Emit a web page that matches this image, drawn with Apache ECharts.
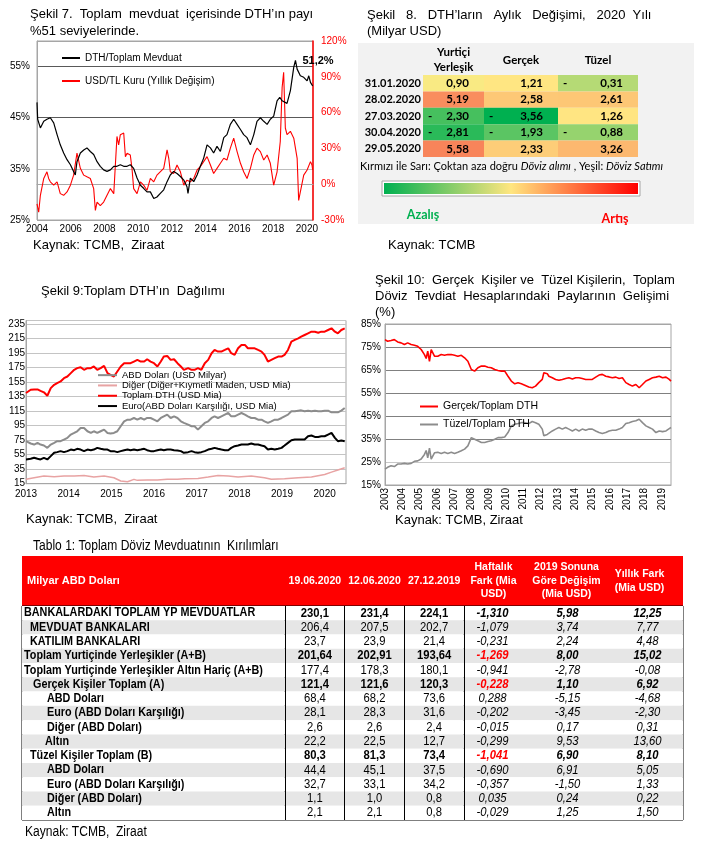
<!DOCTYPE html>
<html><head><meta charset="utf-8">
<script src="https://cdn.jsdelivr.net/npm/echarts@6/dist/echarts.min.js"></script>
<style>html,body{margin:0;padding:0;background:#fff}#c{width:707px;height:847px}</style>
</head><body><div id="c"></div>
<script>
// ---------------- Şekil 7 ----------------
const s7DthYears = [2004.00, 2004.04, 2004.20, 2004.40, 2004.59, 2004.79, 2004.99, 2005.19, 2005.38, 2005.58, 2005.78, 2005.98, 2006.17, 2006.27, 2006.37, 2006.57, 2006.77, 2006.96, 2007.16, 2007.36, 2007.56, 2007.75, 2007.95, 2008.15, 2008.35, 2008.55, 2008.74, 2008.94, 2009.14, 2009.34, 2009.53, 2009.73, 2009.93, 2010.13, 2010.32, 2010.52, 2010.72, 2010.92, 2011.11, 2011.31, 2011.51, 2011.71, 2011.90, 2012.10, 2012.30, 2012.50, 2012.70, 2012.89, 2012.95, 2013.09, 2013.29, 2013.49, 2013.68, 2013.88, 2014.08, 2014.28, 2014.47, 2014.67, 2014.87, 2015.07, 2015.26, 2015.46, 2015.66, 2015.86, 2016.06, 2016.25, 2016.45, 2016.65, 2016.75, 2016.85, 2017.04, 2017.24, 2017.44, 2017.64, 2017.83, 2018.03, 2018.23, 2018.39, 2018.53, 2018.82, 2019.02, 2019.22, 2019.32, 2019.42, 2019.61, 2019.81, 2020.01, 2020.11, 2020.21, 2020.34];
const s7DthValues = [48.0, 44.7, 43.0, 44.3, 44.7, 45.0, 44.0, 41.7, 39.7, 38.1, 36.8, 35.8, 34.5, 33.8, 36.4, 38.1, 38.7, 39.1, 38.4, 37.8, 36.4, 35.5, 34.8, 34.5, 34.8, 35.5, 35.5, 35.8, 35.5, 35.5, 35.8, 35.1, 33.2, 31.8, 31.2, 30.5, 30.5, 29.2, 29.5, 30.2, 30.9, 32.5, 33.8, 34.5, 34.1, 33.5, 32.8, 31.5, 30.2, 33.2, 32.5, 33.8, 35.5, 37.1, 39.7, 39.1, 38.1, 39.4, 38.4, 41.1, 41.7, 43.7, 44.7, 43.7, 42.7, 41.7, 41.1, 39.7, 39.4, 41.7, 44.3, 45.0, 44.3, 43.7, 44.7, 45.3, 48.3, 49.0, 48.3, 47.8, 50.3, 54.9, 56.2, 54.5, 53.2, 52.9, 52.2, 53.2, 51.9, 51.2];
const s7UsdYears = [2004.00, 2004.10, 2004.20, 2004.40, 2004.59, 2004.69, 2004.79, 2004.99, 2005.19, 2005.38, 2005.58, 2005.78, 2005.98, 2006.17, 2006.37, 2006.57, 2006.77, 2006.96, 2007.16, 2007.36, 2007.46, 2007.56, 2007.75, 2007.95, 2008.15, 2008.35, 2008.55, 2008.74, 2008.84, 2008.94, 2009.14, 2009.24, 2009.34, 2009.53, 2009.63, 2009.73, 2009.93, 2010.13, 2010.32, 2010.52, 2010.72, 2010.92, 2011.11, 2011.51, 2011.71, 2011.81, 2011.90, 2012.10, 2012.30, 2012.50, 2012.70, 2012.89, 2013.09, 2013.29, 2013.49, 2013.68, 2013.88, 2014.08, 2014.28, 2014.47, 2014.67, 2014.87, 2015.07, 2015.26, 2015.46, 2015.66, 2015.86, 2016.06, 2016.25, 2016.45, 2016.65, 2016.85, 2017.04, 2017.24, 2017.44, 2017.64, 2017.83, 2018.03, 2018.23, 2018.42, 2018.53, 2018.62, 2018.72, 2018.82, 2019.02, 2019.22, 2019.42, 2019.51, 2019.61, 2019.81, 2020.01, 2020.21, 2020.30, 2020.34];
const s7UsdValues = [-16.4, -23.5, -9.3, 4.8, 10.4, 4.8, 2.0, -0.8, 2.0, -7.9, -9.3, -6.5, -0.8, 7.6, 26.0, 13.3, 7.6, 6.2, 4.8, -3.7, -22.0, -15.0, -17.9, -15.0, -9.3, -3.7, -7.9, 40.0, 33.0, 41.5, 42.9, 23.0, 26.0, 24.5, 13.3, -3.7, -7.9, 2.0, -0.8, -5.1, 4.8, 2.0, 7.6, 13.3, 28.8, 21.7, 10.4, 9.0, 16.1, 10.4, -0.8, 3.4, 2.0, 4.8, 11.9, 14.7, 18.9, 23.1, 16.1, 9.0, 13.3, 17.5, 21.7, 20.3, 30.2, 38.6, 27.3, 17.5, 10.4, 4.8, 13.3, 24.5, 30.2, 27.3, 20.3, 24.5, 17.5, -0.8, 10.4, 35.8, 81.0, 93.7, 47.1, 41.5, 44.3, 38.6, 21.7, -13.6, -6.5, 7.6, 11.9, 18.9, 16.1, 11.9];

// ---------------- Şekil 8 ----------------
const s8Dates = ['31.01.2020', '28.02.2020', '27.03.2020', '30.04.2020', '29.05.2020'];
const s8Columns = ['Yurtiçi\nYerleşik', 'Gerçek', 'Tüzel'];
const s8Yurtici = [0.90, 5.19, -2.30, -2.81, 5.58];
const s8Gercek = [1.21, 2.58, -3.56, -1.93, 2.33];
const s8Tuzel = [-0.31, 2.61, 1.26, -0.88, 3.26];

// ---------------- Şekil 9 ----------------
const s9Years = [2013.00, 2013.11, 2013.19, 2013.27, 2013.34, 2013.42, 2013.50, 2013.58, 2013.66, 2013.73, 2013.81, 2013.89, 2013.97, 2014.05, 2014.13, 2014.20, 2014.28, 2014.36, 2014.44, 2014.52, 2014.59, 2014.67, 2014.75, 2014.83, 2014.91, 2014.98, 2015.06, 2015.14, 2015.22, 2015.30, 2015.38, 2015.45, 2015.53, 2015.61, 2015.69, 2015.77, 2015.84, 2015.92, 2016.00, 2016.08, 2016.16, 2016.23, 2016.31, 2016.39, 2016.47, 2016.55, 2016.63, 2016.70,
  2016.80, 2016.88, 2016.95, 2017.03, 2017.11, 2017.19, 2017.27, 2017.35, 2017.42, 2017.50, 2017.58, 2017.66, 2017.74, 2017.81, 2017.89, 2017.97, 2018.05, 2018.13, 2018.20, 2018.28, 2018.36, 2018.44, 2018.52, 2018.59, 2018.67, 2018.75, 2018.83, 2018.91, 2018.99, 2019.06, 2019.14, 2019.22, 2019.30, 2019.38, 2019.45, 2019.53, 2019.61, 2019.69, 2019.77, 2019.85, 2019.92, 2020.00, 2020.08, 2020.16, 2020.24, 2020.31, 2020.39, 2020.47];
const s9Toplam = [140, 144.5, 145, 145, 143, 141, 136.3, 146.8, 151.4, 153.7, 156, 160.5, 162.8, 167.4, 172, 174.3, 175.6, 172, 174.3, 174.3, 176.6, 172, 174.3, 177.5, 167.4, 165, 162.8, 169.7, 176.6, 181.1, 181.1, 181.1, 183.4, 185.7, 183.4, 183.4, 186.6, 183.4, 181.1, 176.6, 183.4, 190.3, 191.2, 185.7, 186.6, 181.1, 176.6, 172,
  174.3, 172, 172, 174.3, 172, 181.1, 185.7, 194.9, 199.4, 197.2, 197.2, 199.4, 201.7, 194.9, 192.6, 201.7, 206.3, 206.3, 201.7, 201.7, 201.7, 199.4, 197.2, 192.6, 183.4, 185.7, 188, 190.3, 190.3, 192.6, 199.4, 210.9, 213.2, 215.4, 217.7, 220, 222.3, 224.6, 224.6, 223.2, 224.6, 224.6, 226.9, 229.2, 224.6, 222.3, 226.9, 229.2];
const s9Abd = [73.6, 70.4, 69, 71.3, 69, 67.6, 64.4, 69, 71.3, 73.6, 73.6, 75.9, 78.2, 82.7, 85, 87.3, 91.9, 91.9, 87.3, 85, 87.3, 85, 87.3, 89.6, 85, 84.1, 85, 87.3, 94.2, 101, 103.3, 103.3, 105.6, 103.3, 105.6, 103.3, 105.6, 105.6, 103.3, 101, 105.6, 107.9, 110.2, 105.6, 107.9, 105.6, 101, 98.8,
  96.5, 94.2, 94.2, 89.6, 94.2, 98.8, 101, 105.6, 107.9, 105.6, 107.9, 110.2, 112.5, 107.9, 107.9, 110.2, 112.5, 110.2, 107.9, 105.6, 105.6, 103.3, 103.3, 101, 98.8, 101, 103.3, 103.3, 105.6, 107.9, 110.2, 114.8, 114.8, 115.7, 116.1, 114.8, 115.7, 114.8, 115.7, 114.8, 114.8, 115.7, 115.7, 113.4, 113.4, 113.4, 115.7, 119.3];
const s9Euro = [48.4, 49.3, 50.7, 49.3, 48.4, 50.7, 48.4, 53, 57.6, 58.5, 59.9, 58.5, 59.9, 62.1, 61.2, 63.1, 62.1, 59.9, 62.1, 61.2, 62.1, 64.4, 63.1, 62.1, 62.1, 59.9, 59.9, 58.5, 59.9, 61.2, 62.1, 61.2, 62.1, 61.2, 62.1, 63.1, 61.2, 59.9, 59.9, 61.2, 62.1, 61.2, 62.1, 62.1, 61.2, 60.8, 59.9, 57.6,
  58.5, 59.9, 58.5, 57.6, 58.5, 59.9, 62.1, 63.1, 64.4, 63.1, 62.1, 61.2, 61.2, 64.4, 66.7, 67.6, 69, 69, 69, 70.4, 69, 69, 67.6, 66.7, 62.1, 63.1, 62.1, 63.1, 64.4, 67.6, 71.3, 75, 75.9, 75.9, 75.9, 75.9, 80.4, 81.4, 79.5, 79.5, 80.4, 80.4, 82.7, 85, 78.2, 73.6, 74.5, 73.6];
const s9DigerYears = [2013.00, 2013.19, 2013.42, 2013.66, 2013.89, 2014.13, 2014.36, 2014.59, 2014.83, 2015.06, 2015.22, 2015.38, 2015.53, 2015.61, 2015.84, 2016.08, 2016.31, 2016.55, 2016.72, 2017.03, 2017.27, 2017.50, 2017.74, 2017.97, 2018.28, 2018.59, 2018.75, 2019.06, 2019.38, 2019.69, 2020.00, 2020.16, 2020.31, 2020.47];
const s9Diger = [21, 23.2, 25.5, 24.6, 25.5, 25.5, 26.4, 24.2, 25.5, 23.2, 18.7, 17.7, 21, 19.6, 20, 20, 21, 21, 21.9, 22.3, 24.2, 26.4, 25.5, 24.2, 25.5, 23.2, 21, 21.9, 23.2, 24.2, 27.8, 31, 33.8, 37];

// ---------------- Şekil 10 ----------------
const s10Years = [2003.00, 2003.15, 2003.35, 2003.54, 2003.73, 2003.93, 2004.12, 2004.31, 2004.51, 2004.70, 2004.89, 2005.09, 2005.28, 2005.38, 2005.47, 2005.57, 2005.67, 2005.86, 2006.05, 2006.25, 2006.44, 2006.63, 2006.83, 2007.02, 2007.21, 2007.41, 2007.60, 2007.79, 2007.99, 2008.18, 2008.37, 2008.57, 2008.76, 2008.95, 2009.14, 2009.34, 2009.53, 2009.72, 2009.92, 2010.11, 2010.30, 2010.50, 2010.69, 2010.88, 2011.08,
  2011.31, 2011.51, 2011.70, 2011.89, 2012.09, 2012.18, 2012.28, 2012.38, 2012.47, 2012.67, 2012.86, 2013.05, 2013.25, 2013.44, 2013.63, 2013.83, 2014.02, 2014.21, 2014.40, 2014.60, 2014.79, 2014.98, 2015.18, 2015.37, 2015.56, 2015.76, 2015.95, 2016.14, 2016.34, 2016.53, 2016.72, 2016.92, 2017.11, 2017.30, 2017.50, 2017.69, 2017.88, 2018.08, 2018.27, 2018.46, 2018.66, 2018.85, 2019.04, 2019.24, 2019.43, 2019.53];
const s10Gercek = [78.2, 77.5, 77.8, 78.2, 77.2, 76.8, 76.1, 76.8, 76.1, 75.8, 75.3, 73.9, 71.7, 70.0, 73.2, 68.8, 73.9, 71.0, 71.0, 71.7, 71.4, 71.7, 71.7, 71.4, 71.0, 71.4, 70.3, 68.8, 65.2, 64.5, 66.0, 66.7, 66.7, 66.2, 66.0, 65.2, 64.8, 64.5, 64.5, 62.3, 60.2, 59.0, 59.5, 59.0, 58.4,
  57.6, 57.3, 58.0, 59.5, 60.9, 63.8, 64.5, 63.4, 62.3, 61.6, 60.9, 60.5, 60.9, 61.3, 61.6, 61.1, 61.6, 61.6, 61.3, 60.9, 60.9, 60.9, 61.9, 62.8, 63.1, 62.3, 62.0, 61.6, 61.9, 61.3, 61.6, 59.5, 58.7, 58.0, 58.7, 57.3, 58.7, 60.2, 60.9, 61.6, 61.9, 62.3, 61.6, 61.9, 60.9, 60.2];
const s10Tuzel = [21.9, 22.7, 23.4, 23.0, 24.1, 24.1, 24.4, 24.1, 24.4, 25.3, 25.5, 26.3, 28.3, 30.0, 26.8, 31.0, 26.3, 29.0, 29.2, 28.7, 29.2, 28.7, 29.2, 28.7, 29.2, 29.9, 30.6, 32.0, 35.6, 34.9, 34.2, 33.5, 33.5, 33.9, 34.2, 34.9, 35.6, 35.6, 35.9, 37.8, 40.7, 41.4, 41.7, 42.1, 42.1,
  41.7, 42.6, 42.1, 41.4, 39.3, 36.4, 35.8, 37.0, 37.8, 38.5, 39.3, 40.0, 39.3, 40.0, 39.3, 38.5, 39.3, 38.5, 39.3, 38.8, 39.3, 39.3, 38.5, 37.8, 37.4, 37.8, 38.5, 38.8, 38.8, 39.3, 40.0, 41.7, 42.1, 42.6, 42.9, 43.6, 42.1, 40.7, 40.0, 39.3, 37.8, 38.5, 38.2, 38.5, 39.5, 40.0];

// ---------------- Tablo 1 ----------------
const t1Rows = ['BANKALARDAKİ TOPLAM YP MEVDUATLAR', 'MEVDUAT BANKALARI', 'KATILIM BANKALARI', 'Toplam Yurtiçinde Yerleşikler (A+B)', 'Toplam Yurtiçinde Yerleşikler Altın Hariç (A+B)', 'Gerçek Kişiler Toplam (A)', 'ABD Doları', 'Euro (ABD Doları Karşılığı)', 'Diğer (ABD Doları)', 'Altın', 'Tüzel Kişiler Toplam (B)', 'ABD Doları', 'Euro (ABD Doları Karşılığı)', 'Diğer (ABD Doları)', 'Altın'];
const t1DateHeaders = ['19.06.2020', '12.06.2020', '27.12.2019'];
const t1ChangeHeaders = ['Haftalık\nFark (Mia\nUSD)', '2019 Sonuna\nGöre Değişim\n(Mia USD)', 'Yıllık Fark\n(Mia USD)'];
const t1Jun19 = [230.1, 206.4, 23.7, 201.64, 177.4, 121.4, 68.4, 28.1, 2.6, 22.2, 80.3, 44.4, 32.7, 1.1, 2.1];
const t1Jun12 = [231.4, 207.5, 23.9, 202.91, 178.3, 121.6, 68.2, 28.3, 2.6, 22.5, 81.3, 45.1, 33.1, 1.0, 2.1];
const t1Dec27 = [224.1, 202.7, 21.4, 193.64, 180.1, 120.3, 73.6, 31.6, 2.4, 12.7, 73.4, 37.5, 34.2, 0.8, 0.8];
const t1Weekly = [-1.310, -1.079, -0.231, -1.269, -0.941, -0.228, 0.288, -0.202, -0.015, -0.299, -1.041, -0.690, -0.357, 0.035, -0.029];
const t1SinceYE = [5.98, 3.74, 2.24, 8.00, -2.78, 1.10, -5.15, -3.45, 0.17, 9.53, 6.90, 6.91, -1.50, 0.24, 1.25];
const t1Annual = [12.25, 7.77, 4.48, 15.02, -0.08, 6.92, -4.68, -2.30, 0.31, 13.60, 8.10, 5.05, 1.33, 0.22, 1.50];

// ---------------- styling / layout (not data) ----------------
const F = '"Liberation Sans", Arial, sans-serif';
const FC = 'Lato, "Open Sans", sans-serif';
const t1RowLevel = [0, 1, 1, 0, 0, 2, 3, 3, 3, 4, 1, 3, 3, 3, 3];
const t1LevelIndent = [2, 8, 11, 25, 23];
const t1BoldRows = [0, 3, 5, 10];
const t1RedWeeklyRows = [3, 5, 10];
const t1TwoDecRows = [3];
const t1ChangeDecimals = [3, 2, 2];
const t1ChangeOffsets = [-8, -6, 1];
const NARROW = 0.9;

const pairs = (xs, ys) => xs.map((x, i) => [x, ys[i]]);
const fmt = (v, d) => v.toFixed(d).replace('.', ',');
const yearLabel = step => v => {
  const r = Math.round(v);
  return (Math.abs(v - r) < 1e-6 && r % step === 0) ? String(r) : '';
};
const txt = (x, y, text, font, extra, elExtra) => Object.assign({
  type: 'text', x, y, z: 100,
  style: Object.assign({ text, font, fill: '#000', align: 'left', verticalAlign: 'middle', textAlign: 'left', textVerticalAlign: 'middle' }, extra || {})
}, elExtra || {});
const tstyle = (text, font, fill, align) => ({ text, font, fill, align, verticalAlign: 'middle', textAlign: align, textVerticalAlign: 'middle' });

function heatCell(params, api) {
  const p = api.coord([api.value(0), api.value(1)]);
  const s = api.size([1, 1]);
  const v = api.value(2);
  const x0 = p[0] - s[0] / 2, y0 = p[1] - s[1] / 2;
  const font = 'bold 11.5px ' + FC;
  const kids = [
    { type: 'rect', shape: { x: x0, y: y0, width: s[0], height: s[1] }, style: { fill: api.visual('color') } },
    { type: 'text', x: x0 + s[0] - 15, y: p[1], style: tstyle(fmt(Math.abs(v), 2), font, '#000', 'right') }
  ];
  if (v < 0) kids.push({ type: 'text', x: x0 + 5, y: p[1], style: tstyle('-', font, '#000', 'left') });
  return { type: 'group', children: kids };
}
function rowLabelCell(params, api) {
  const r = api.value(1);
  const p = api.coord([0, r]);
  const s = api.size([1, 1]);
  return { type: 'text', x: p[0] - s[0] / 2 + t1LevelIndent[t1RowLevel[r]], y: p[1], scaleX: NARROW,
    style: tstyle(t1Rows[r], 'bold 12px ' + F, '#000', 'left') };
}
function dateCell(params, api) {
  const r = api.value(1), v = api.value(2);
  const p = api.coord([api.value(0), r]);
  const bold = t1BoldRows.includes(r);
  return { type: 'text', x: p[0], y: p[1], scaleX: NARROW,
    style: tstyle(fmt(v, t1TwoDecRows.includes(r) ? 2 : 1), (bold ? 'bold ' : '') + '12.5px ' + F, '#000', 'center') };
}
function changeCell(params, api) {
  const c = api.value(0), r = api.value(1), v = api.value(2);
  const p = api.coord([c, r]);
  const bold = t1BoldRows.includes(r);
  const red = c === 0 && t1RedWeeklyRows.includes(r);
  return { type: 'text', x: p[0] + t1ChangeOffsets[c], y: p[1], scaleX: NARROW,
    style: tstyle(fmt(v, t1ChangeDecimals[c]), 'italic ' + (bold ? 'bold ' : '') + '12.5px ' + F, red ? '#ff0000' : '#000', 'center') };
}

const s8All = s8Yurtici.concat(s8Gercek, s8Tuzel);
const t1DateData = [t1Jun19, t1Jun12, t1Dec27].flatMap((col, c) => col.map((v, r) => [c, r, v]));
const t1ChangeData = [t1Weekly, t1SinceYE, t1Annual].flatMap((col, c) => col.map((v, r) => [c, r, v]));
const t1LabelData = t1Rows.map((name, r) => [0, r]);

const noLine = { show: false };
const frameLine = { show: true, lineStyle: { color: '#a6a6a6', width: 1 } };
const blackLbl = { fontSize: 10, color: '#000', fontFamily: F };

const s8X = (i, margin) => ({
  gridIndex: 3 + i, type: 'category', position: 'top', data: [s8Columns[i]],
  axisLine: noLine, axisTick: noLine, splitLine: noLine,
  axisLabel: { interval: 0, margin, fontFamily: FC, fontWeight: 'bold', fontSize: 11.5, lineHeight: 15, color: '#000' }
});
const s8Y = (i) => ({
  gridIndex: 3 + i, type: 'category', inverse: true, data: s8Dates,
  axisLine: noLine, axisTick: noLine, splitLine: noLine,
  axisLabel: { show: i === 0, interval: 0, margin: 2, fontFamily: FC, fontWeight: 'bold', fontSize: 11, color: '#000' }
});
const tY = (i) => ({
  gridIndex: 6 + i, type: 'category', inverse: true, data: t1Rows,
  axisLine: noLine, axisTick: { show: false, interval: 0 }, splitLine: noLine, axisLabel: { show: false, interval: 0 },
  splitArea: { show: true, interval: 0, areaStyle: { color: ['#ffffff', '#e6e6e6'] } }
});
const lineS = (name, xi, yi, data, color, width, z) => ({
  type: 'line', name, xAxisIndex: xi, yAxisIndex: yi, data, symbol: 'none', showSymbol: false,
  lineStyle: { color, width }, itemStyle: { color }, z: z || 2, animation: false
});
const hdrLbl = { interval: 0, margin: 25, verticalAlign: 'middle', color: '#fff', fontFamily: F, fontWeight: 'bold', fontSize: 10.5 };

const option = {
  animation: false,
  backgroundColor: '#ffffff',
  textStyle: { fontFamily: F },
  grid: [
    { left: 37, top: 41, width: 276, height: 179, show: true, borderColor: '#a6a6a6', borderWidth: 1 },
    { left: 26, top: 320.5, width: 320, height: 163.2, show: true, borderColor: '#a6a6a6', borderWidth: 1 },
    { left: 385, top: 324, width: 286, height: 161, show: true, borderColor: '#a6a6a6', borderWidth: 1 },
    { left: 423, top: 75, width: 61, height: 82 },
    { left: 484, top: 75, width: 74, height: 82 },
    { left: 558, top: 75, width: 80, height: 82 },
    { left: 22, top: 606, width: 263, height: 214, show: true, borderColor: '#000', borderWidth: 1 },
    { left: 285, top: 606, width: 179, height: 214, show: true, borderColor: '#000', borderWidth: 1 },
    { left: 464, top: 606, width: 219, height: 214, show: true, borderColor: '#000', borderWidth: 1 }
  ],
  xAxis: [
    { gridIndex: 0, type: 'value', min: 2004, max: 2020.36, interval: 2, axisLine: frameLine, axisTick: noLine, splitLine: noLine, axisLabel: Object.assign({ margin: 4, formatter: yearLabel(2) }, blackLbl) },
    { gridIndex: 1, type: 'value', min: 2013, max: 2020.5, interval: 1, axisLine: frameLine, axisTick: noLine, splitLine: noLine, axisLabel: Object.assign({ margin: 6, formatter: yearLabel(1) }, blackLbl) },
    { gridIndex: 2, type: 'value', min: 2003, max: 2019.53, interval: 1, axisLine: frameLine, axisTick: noLine, splitLine: noLine, axisLabel: Object.assign({ margin: 3, rotate: 90, formatter: yearLabel(1) }, blackLbl) },
    s8X(0, 0), s8X(1, 7), s8X(2, 7),
    { gridIndex: 6, type: 'category', position: 'top', data: ['Milyar ABD Doları'], axisLine: noLine, axisTick: noLine, splitLine: noLine,
      axisLabel: { interval: 0, margin: 25, verticalAlign: 'middle', formatter: v => '{h|' + v + '}', rich: { h: { width: 253, align: 'left', color: '#fff', fontFamily: F, fontWeight: 'bold', fontSize: 11 } } } },
    { gridIndex: 7, type: 'category', position: 'top', data: t1DateHeaders, axisLine: noLine, axisTick: noLine,
      splitLine: { show: true, interval: 0, lineStyle: { color: '#000', width: 1 } }, axisLabel: hdrLbl },
    { gridIndex: 8, type: 'category', position: 'top', data: t1ChangeHeaders, axisLine: noLine, axisTick: noLine, splitLine: noLine,
      axisLabel: Object.assign({}, hdrLbl, { padding: [0, 14, 0, 0], lineHeight: 13.5 }) }
  ],
  yAxis: [
    { gridIndex: 0, type: 'value', position: 'left', min: 25, max: 60, interval: 10, axisLine: frameLine, axisTick: noLine,
      axisLabel: Object.assign({ margin: 7, formatter: v => v === 60 ? '' : v + '%' }, blackLbl),
      splitLine: { show: true, lineStyle: { color: ['#a6a6a6', '#bdbdbd', '#595959', '#595959', '#a6a6a6'], width: 1.2 } } },
    { gridIndex: 0, type: 'value', position: 'right', min: -30, max: 120, interval: 30,
      axisLine: { show: true, lineStyle: { color: '#ff0000', width: 1.5 } }, axisTick: noLine, splitLine: noLine,
      axisLabel: { margin: 8, fontSize: 10, color: '#ff0000', fontFamily: F, formatter: v => v + '%' } },
    { gridIndex: 1, type: 'value', min: 15, max: 240, interval: 20, axisLine: frameLine, axisTick: noLine,
      axisLabel: Object.assign({ margin: 1, formatter: v => v === 240 ? '' : String(v) }, blackLbl),
      splitLine: { show: true, lineStyle: { color: '#c4c4c4', width: 1 } } },
    { gridIndex: 2, type: 'value', min: 15, max: 85, interval: 10, axisLine: frameLine, axisTick: noLine,
      axisLabel: Object.assign({ margin: 4, formatter: v => v + '%' }, blackLbl),
      splitLine: { show: true, lineStyle: { color: ['#a6a6a6', '#c8c8c8', '#808080', '#808080', '#808080', '#808080', '#808080', '#a6a6a6'], width: 1.2 } } },
    s8Y(0), s8Y(1), s8Y(2),
    tY(0), tY(1), tY(2)
  ],
  legend: [
    { data: ['DTH/Toplam Mevduat', 'USD/TL Kuru (Yıllık Değişim)'], orient: 'vertical', left: 62, top: 53, padding: 0, icon: 'rect', itemWidth: 18, itemHeight: 2, itemGap: 13, selectedMode: false, textStyle: { fontSize: 10, color: '#000', fontFamily: F } },
    { data: ['ABD Doları (USD Milyar)', 'Diğer (Diğer+Kıymetli Maden, USD Mia)', 'Toplam DTH (USD Mia)', 'Euro(ABD Doları Karşılığı, USD Mia)'], orient: 'vertical', left: 98, top: 370, padding: 0, icon: 'rect', itemWidth: 19, itemHeight: 2, itemGap: 0, selectedMode: false, textStyle: { fontSize: 9.5, lineHeight: 10.3, color: '#000', fontFamily: F } },
    { data: ['Gerçek/Toplam DTH', 'Tüzel/Toplam DTH'], orient: 'vertical', left: 420, top: 401, padding: 0, icon: 'rect', itemWidth: 18, itemHeight: 2, itemGap: 7, selectedMode: false, textStyle: { fontSize: 10.5, color: '#000', fontFamily: F } }
  ],
  visualMap: [
    { type: 'continuous', show: false, seriesIndex: [8, 9, 10], dimension: 2, min: Math.min(...s8All), max: Math.max(...s8All), inRange: { color: ['#00B050', '#FFEB84', '#F8845A'] } }
  ],
  series: [
    lineS('DTH/Toplam Mevduat', 0, 0, pairs(s7DthYears, s7DthValues), '#000000', 1.2, 3),
    lineS('USD/TL Kuru (Yıllık Değişim)', 0, 1, pairs(s7UsdYears, s7UsdValues), '#ff0000', 1.1, 2),
    lineS('ABD Doları (USD Milyar)', 1, 2, pairs(s9Years, s9Abd), '#8c8c8c', 2),
    lineS('Diğer (Diğer+Kıymetli Maden, USD Mia)', 1, 2, pairs(s9DigerYears, s9Diger), '#e8a3a3', 1.5),
    lineS('Toplam DTH (USD Mia)', 1, 2, pairs(s9Years, s9Toplam), '#ff0000', 2),
    lineS('Euro(ABD Doları Karşılığı, USD Mia)', 1, 2, pairs(s9Years, s9Euro), '#000000', 2),
    lineS('Gerçek/Toplam DTH', 2, 3, pairs(s10Years, s10Gercek), '#ff0000', 1.6),
    lineS('Tüzel/Toplam DTH', 2, 3, pairs(s10Years, s10Tuzel), '#8c8c8c', 1.6),
    { type: 'custom', xAxisIndex: 3, yAxisIndex: 4, data: s8Yurtici.map((v, r) => [0, r, v]), renderItem: heatCell, silent: true },
    { type: 'custom', xAxisIndex: 4, yAxisIndex: 5, data: s8Gercek.map((v, r) => [0, r, v]), renderItem: heatCell, silent: true },
    { type: 'custom', xAxisIndex: 5, yAxisIndex: 6, data: s8Tuzel.map((v, r) => [0, r, v]), renderItem: heatCell, silent: true },
    { type: 'custom', xAxisIndex: 7, yAxisIndex: 8, data: t1DateData, renderItem: dateCell, silent: true },
    { type: 'custom', xAxisIndex: 8, yAxisIndex: 9, data: t1ChangeData, renderItem: changeCell, silent: true },
    { type: 'custom', xAxisIndex: 6, yAxisIndex: 7, data: t1LabelData, renderItem: rowLabelCell, silent: true }
  ],
  graphic: { elements: [
    { type: 'rect', z: -10, shape: { x: 358, y: 43, width: 336, height: 181 }, style: { fill: '#f2f2f2' } },
    { type: 'rect', z: 1, shape: { x: 382, y: 181, width: 258, height: 15 }, style: { fill: '#ffffff', stroke: '#a6a6a6', lineWidth: 1 } },
    { type: 'rect', z: 2, shape: { x: 384, y: 183, width: 254, height: 11 }, style: { fill: { type: 'linear', x: 0, y: 0, x2: 1, y2: 0, colorStops: [{ offset: 0, color: '#00B050' }, { offset: 0.5, color: '#FFE680' }, { offset: 1, color: '#FF0000' }] } } },
    { type: 'rect', z: -10, shape: { x: 22, y: 556, width: 661, height: 50 }, style: { fill: '#ff0000' } },
    txt(30, 14, 'Şekil 7.  Toplam  mevduat  içerisinde DTH’ın payı', '13px ' + F),
    txt(30, 31, '%51 seviyelerinde.', '13px ' + F),
    txt(318, 61, '51,2%', 'bold 11px ' + F, { align: 'center', textAlign: 'center' }),
    txt(33, 245, 'Kaynak: TCMB,  Ziraat', '13px ' + F),
    txt(367, 15, 'Şekil   8.   DTH’ların   Aylık   Değişimi,   2020  Yılı', '13px ' + F),
    txt(367, 31, '(Milyar USD)', '13px ' + F),
    { type: 'text', x: 360, y: 166, z: 100, style: { text: '{n|Kırmızı ile Sarı: Çoktan aza doğru }{i|Döviz alımı}{n| , Yeşil: }{i|Döviz Satımı}', fill: '#000', verticalAlign: 'middle', textVerticalAlign: 'middle', rich: { n: { font: '11px ' + FC, fill: '#000' }, i: { font: 'italic 11px ' + FC, fill: '#000' } } } },
    txt(423, 215, 'Azalış', 'bold 12.5px ' + FC, { fill: '#00B050', align: 'center', textAlign: 'center' }),
    txt(615, 219, 'Artış', 'bold 12.5px ' + FC, { fill: '#FF0000', align: 'center', textAlign: 'center' }),
    txt(388, 245, 'Kaynak: TCMB', '13px ' + F),
    txt(41, 291, 'Şekil 9:Toplam DTH’ın  Dağılımı', '13px ' + F),
    txt(26, 519, 'Kaynak: TCMB,  Ziraat', '13px ' + F),
    txt(375, 280, 'Şekil 10:  Gerçek  Kişiler ve  Tüzel Kişilerin,  Toplam', '13px ' + F),
    txt(375, 296, 'Döviz  Tevdiat  Hesaplarındaki  Paylarının  Gelişimi', '13px ' + F),
    txt(375, 312, '(%)', '13px ' + F),
    txt(395, 520, 'Kaynak: TCMB, Ziraat', '13px ' + F),
    txt(33, 546, 'Tablo 1: Toplam Döviz Mevduatının  Kırılımları', '14px ' + F, null, { scaleX: 0.86 }),
    txt(25, 832, 'Kaynak: TCMB,  Ziraat', '14px ' + F, null, { scaleX: 0.86 })
  ] }
};

const chart = echarts.init(document.getElementById('c'));
chart.setOption(option);
</script></body></html>
